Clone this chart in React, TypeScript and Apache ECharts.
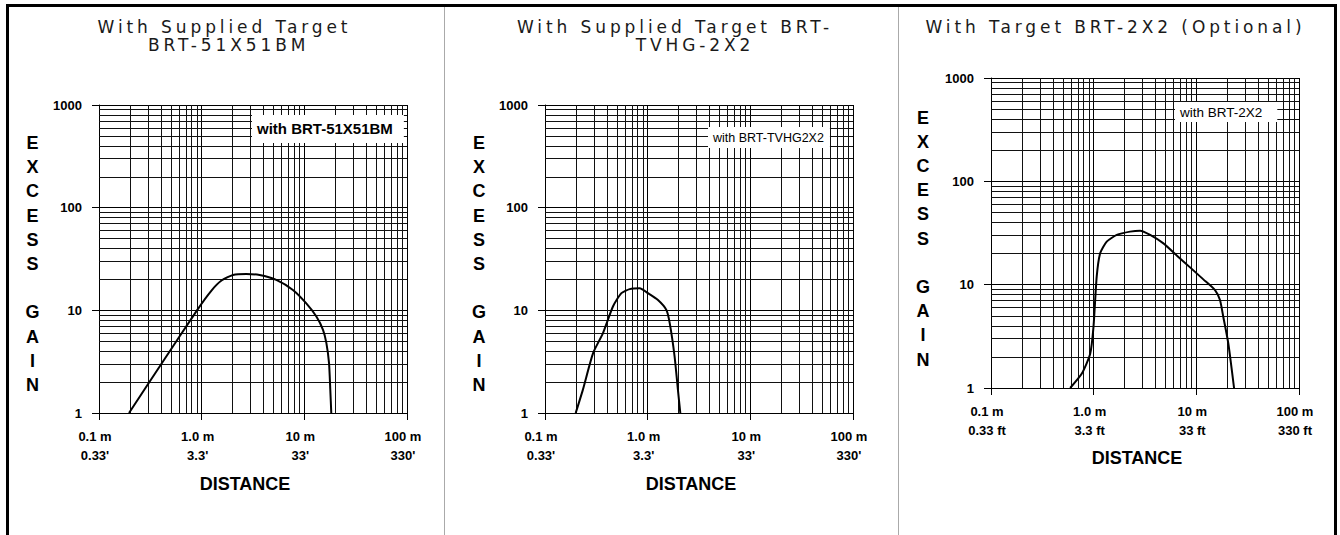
import React, { useEffect, useRef } from "react";
import * as echarts from "echarts";

// ---------- data ----------
const TITLE_LINES: string[][] = [
  ["With Supplied Target", "BRT-51X51BM"],
  ["With Supplied Target BRT-", "TVHG-2X2"],
  ["With Target BRT-2X2 (Optional)"],
];
const LEGEND_NAMES = ["with BRT-51X51BM", "with BRT-TVHG2X2", "with BRT-2X2"];
const Y_NAME = "E\nX\nC\nE\nS\nS\n\nG\nA\nI\nN";
const X_NAME = "DISTANCE";

const X_TICK_VALUES = [0.1, 1, 10, 100];
const X_LABELS_METRES = ["0.1 m", "1.0 m", "10 m", "100 m"];
const X_LABELS_FEET_PRIME = ["0.33'", "3.3'", "33'", "330'"];
const X_LABELS_FEET_FT = ["0.33 ft", "3.3 ft", "33 ft", "330 ft"];
const Y_TICK_VALUES = [1, 10, 100, 1000];
const Y_LABELS = ["1", "10", "100", "1000"];
const X_MINOR_GRID = [0.2, 0.3, 0.4, 0.5, 0.6, 0.7, 0.8, 0.9, 2, 3, 4, 5, 6, 7, 8, 9, 20, 30, 40, 50, 60, 70, 80, 90];
const Y_MINOR_GRID = [2, 3, 4, 5, 6, 7, 8, 9, 20, 30, 40, 50, 60, 70, 80, 90, 200, 300, 400, 500, 600, 700, 800, 900];

// distance (m) and excess gain
const DIST_1 = [0.196, 0.4, 0.9, 1.24, 1.56, 2.02, 2.72, 3.67, 5.33, 7.74, 10.4, 13.1, 15.2, 16.4, 17.4, 17.9, 18.3];
const GAIN_1 = [1, 2.95, 10, 15.5, 19.5, 22.1, 22.6, 22.1, 19.8, 15.8, 11.75, 8.7, 6.46, 4.8, 3.06, 1.69, 1];
const DIST_2 = [0.199, 0.234, 0.294, 0.367, 0.459, 0.555, 0.668, 0.836, 1.007, 1.26, 1.52, 1.64, 1.83, 1.97, 2.08];
const GAIN_2 = [1, 1.69, 3.83, 6.0, 10.9, 14.7, 16.1, 16.4, 14.7, 12.6, 10.1, 7.5, 3.55, 1.69, 1];
const DIST_3 = [0.59, 0.767, 0.925, 0.996, 1.07, 1.156, 1.34, 1.68, 2.26, 2.83, 3.55, 4.78, 6.44, 8.69, 11.7, 15.2, 17, 18.3, 20.5, 23.3];
const GAIN_3 = [1, 1.38, 2.15, 3.9, 11.9, 20.1, 26.1, 30.3, 32.6, 33.3, 30.3, 25.1, 19.2, 14.7, 11.25, 8.87, 7.1, 4.89, 2.69, 1];

const CURVES = [
  { dist: DIST_1, gain: GAIN_1 },
  { dist: DIST_2, gain: GAIN_2 },
  { dist: DIST_3, gain: GAIN_3 },
];
const FEET_LABELS = [X_LABELS_FEET_PRIME, X_LABELS_FEET_PRIME, X_LABELS_FEET_FT];

// ---------- layout / style ----------
const NARROW = "'Liberation Sans Narrow', 'Arial Narrow', 'Liberation Sans', Arial, sans-serif";
const TITLE_FONT = "'DejaVu Sans', Verdana, sans-serif";
const TITLE_SPACING = "3.9px";

const LAYOUT = [
  {
    grid: { left: 99, top: 105, width: 308, height: 308 },
    titleX: [224.5, 228.7],
    yName: { x: 32.5, y: 264 },
    legend: { left: 252, top: 115, padding: [6, 11, 7, 0], fontSize: 15, fontWeight: "bold" },
    nameGap: 62,
  },
  {
    grid: { left: 545, top: 105, width: 308, height: 308 },
    titleX: [675, 695],
    yName: { x: 479, y: 264 },
    legend: { left: 708, top: 127, padding: [4, 6, 4, 0], fontSize: 12.5, fontWeight: "normal" },
    nameGap: 62,
  },
  {
    grid: { left: 991, top: 78, width: 308, height: 310 },
    titleX: [1115.5],
    yName: { x: 923, y: 238.5 },
    legend: { left: 1175, top: 102, padding: [3, 15, 3, 0], fontSize: 13.5, fontWeight: "normal" },
    nameGap: 61,
  },
];
const TITLE_TOPS = [17.7, 35.7];

function tickIndex(ticks: number[], v: number): number {
  return ticks.findIndex((t) => Math.abs(Math.log10(v) - Math.log10(t)) < 0.01);
}

function buildOption(): any {
  const titles: any[] = [];
  TITLE_LINES.forEach((lines, i) => {
    lines.forEach((line, j) => {
      titles.push({
        text: line,
        left: LAYOUT[i].titleX[j],
        top: TITLE_TOPS[j],
        textAlign: "center",
        padding: 0,
        textStyle: {
          fontFamily: TITLE_FONT,
          fontSize: 17,
          fontWeight: "normal",
          color: "#1a1a1a",
          lineHeight: 18,
        },
      });
    });
  });

  const grids = LAYOUT.map((l) => ({ ...l.grid, containLabel: false, outerBoundsMode: "none" }));

  const xAxes = LAYOUT.map((l, i) => ({
    gridIndex: i,
    type: "log",
    logBase: 10,
    min: 0.1,
    max: 100,
    splitNumber: 3,
    axisLine: { show: true, lineStyle: { color: "#000", width: 1 } },
    axisTick: { show: true, length: 7, inside: false, lineStyle: { color: "#000", width: 1 } },
    splitLine: { show: true, lineStyle: { color: "#000", width: 1 } },
    minorTick: { show: false },
    axisLabel: {
      show: true,
      margin: 14,
      lineHeight: 19,
      fontFamily: NARROW,
      fontWeight: "bold",
      fontSize: 13,
      color: "#000",
      padding: [0, 8, 0, 0],
      hideOverlap: false,
      showMinLabel: true,
      showMaxLabel: true,
      formatter: (v: number) => {
        const k = tickIndex(X_TICK_VALUES, v);
        return k < 0 ? "" : X_LABELS_METRES[k] + "\n" + FEET_LABELS[i][k];
      },
    },
    name: X_NAME,
    nameLocation: "middle",
    nameGap: l.nameGap,
    nameTextStyle: {
      fontFamily: NARROW,
      fontWeight: "bold",
      fontSize: 18,
      lineHeight: 18,
      color: "#000",
      padding: [0, 16, 0, 0],
    },
  }));

  const yAxes = LAYOUT.map((_l, i) => ({
    gridIndex: i,
    type: "log",
    logBase: 10,
    min: 1,
    max: 1000,
    splitNumber: 3,
    axisLine: { show: true, lineStyle: { color: "#000", width: 1 } },
    axisTick: { show: true, length: 7, inside: false, lineStyle: { color: "#000", width: 1 } },
    splitLine: { show: true, lineStyle: { color: "#000", width: 1 } },
    axisLabel: {
      show: true,
      margin: 17,
      fontFamily: NARROW,
      fontWeight: "bold",
      fontSize: 13,
      color: "#000",
      showMinLabel: true,
      showMaxLabel: true,
      formatter: (v: number) => {
        const k = tickIndex(Y_TICK_VALUES, v);
        return k < 0 ? "" : Y_LABELS[k];
      },
    },
  }));

  const series = CURVES.map((c, i) => ({
    type: "line",
    name: LEGEND_NAMES[i],
    xAxisIndex: i,
    yAxisIndex: i,
    data: c.dist.map((d, j) => [d, c.gain[j]]),
    symbol: "none",
    showSymbol: false,
    smooth: 0.2,
    silent: true,
    z: 3,
    lineStyle: { color: "#000", width: 2 },
    itemStyle: { color: "#000" },
    markLine: {
      silent: true,
      z: 1,
      symbol: ["none", "none"],
      label: { show: false },
      emphasis: { disabled: true },
      lineStyle: { color: "#111", width: 1, type: "solid" },
      data: [
        ...X_MINOR_GRID.map((v) => ({ xAxis: v })),
        ...Y_MINOR_GRID.map((v) => ({ yAxis: v })),
      ],
    },
  }));

  const legends = LAYOUT.map((l, i) => ({
    data: [{ name: LEGEND_NAMES[i], icon: "none" }],
    left: l.legend.left,
    top: l.legend.top,
    itemWidth: 0,
    itemHeight: 0,
    itemGap: 0,
    padding: l.legend.padding,
    backgroundColor: "#fff",
    selectedMode: false,
    z: 10,
    textStyle: {
      fontFamily: NARROW,
      fontWeight: l.legend.fontWeight,
      fontSize: l.legend.fontSize,
      color: "#000",
    },
  }));

  const graphics: any[] = [
    { type: "rect", silent: true, shape: { x: 6, y: 4, width: 1331, height: 3 }, style: { fill: "#000" } },
    { type: "rect", silent: true, shape: { x: 6, y: 4, width: 3, height: 531 }, style: { fill: "#000" } },
    { type: "rect", silent: true, shape: { x: 1334, y: 4, width: 3, height: 531 }, style: { fill: "#000" } },
    { type: "line", silent: true, shape: { x1: 444.5, y1: 7, x2: 444.5, y2: 535 }, style: { stroke: "#aaaaaa", lineWidth: 1 } },
    { type: "line", silent: true, shape: { x1: 898.5, y1: 7, x2: 898.5, y2: 535 }, style: { stroke: "#aaaaaa", lineWidth: 1 } },
    ...LAYOUT.map((l) => ({
      type: "text",
      silent: true,
      x: l.yName.x,
      y: l.yName.y,
      style: {
        text: Y_NAME,
        textAlign: "center",
        textVerticalAlign: "middle",
        fontFamily: NARROW,
        fontWeight: "bold",
        fontSize: 18,
        lineHeight: 24.2,
        fill: "#000",
      },
    })),
  ];

  return {
    animation: false,
    backgroundColor: "#fff",
    title: titles,
    grid: grids,
    xAxis: xAxes,
    yAxis: yAxes,
    legend: legends,
    series,
    graphic: graphics,
  };
}

const ALL_TITLE_LINES = TITLE_LINES.flat();

export default function App() {
  const ref = useRef<HTMLDivElement>(null);
  useEffect(() => {
    const el = ref.current as HTMLDivElement;
    const chart = echarts.init(el, null, { renderer: "svg", width: 1340, height: 535 });
    chart.setOption(buildOption());
    const spaceTitles = () => {
      el.querySelectorAll("text").forEach((t) => {
        if (ALL_TITLE_LINES.includes((t.textContent || "").trim())) {
          (t as SVGTextElement).style.letterSpacing = TITLE_SPACING;
        }
      });
    };
    spaceTitles();
    chart.on("finished", spaceTitles);
    const raf = requestAnimationFrame(spaceTitles);
    return () => {
      cancelAnimationFrame(raf);
      chart.dispose();
    };
  }, []);
  return (
    <div
      ref={ref}
      style={{ position: "fixed", left: 0, top: 0, width: 1340, height: 535, background: "#fff" }}
    />
  );
}
